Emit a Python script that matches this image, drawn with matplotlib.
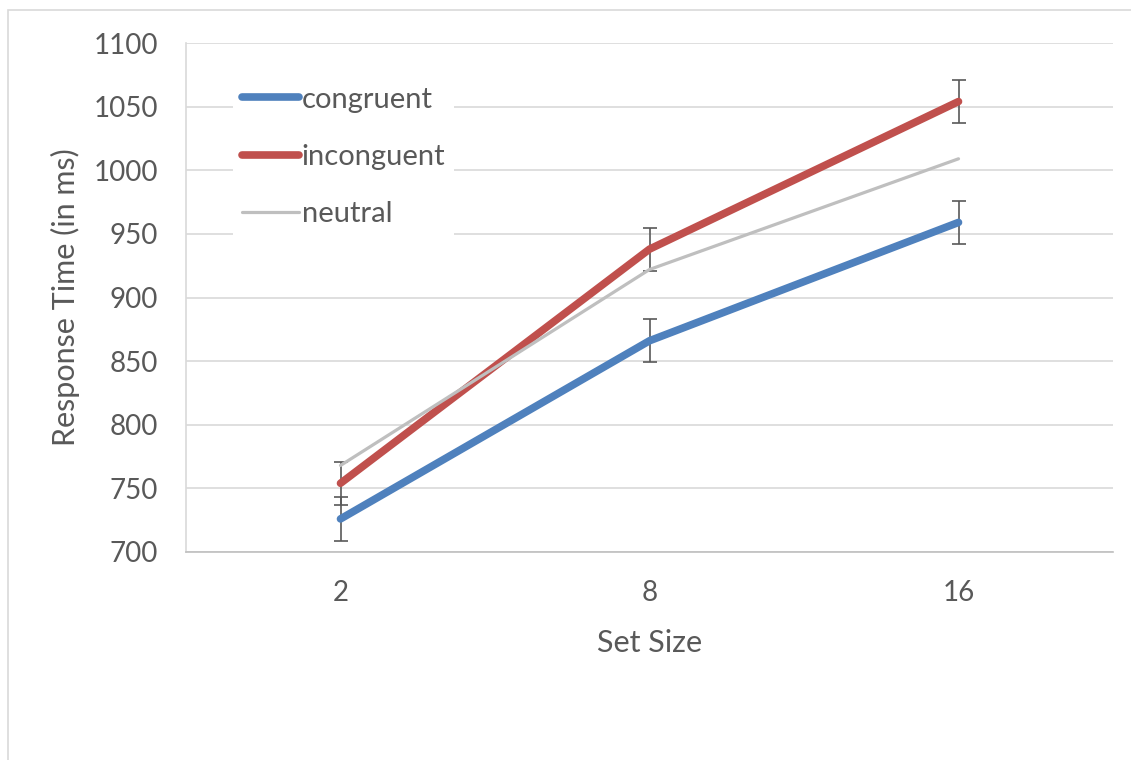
import matplotlib
matplotlib.use("Agg")
import matplotlib.pyplot as plt
from matplotlib.patches import Rectangle

plt.rcParams['font.family'] = ['Lato', 'DejaVu Sans']

# data
set_sizes = ['2', '8', '16']
congruent = [726, 866, 959]
inconguent = [754, 938, 1054]
neutral = [768, 922, 1009]
err = [17, 17, 17]

text_col = '#595959'
grid_col = '#d9d9d9'

fig = plt.figure(figsize=(11.31, 7.6), dpi=100)
ax = fig.add_axes([186 / 1131, 1 - 552 / 760, (1113 - 186) / 1131, (552 - 43) / 760])

# outer chart frame
fig.patches.append(Rectangle((8 / 1131, -0.05), 1.05, 1 - 10 / 760 + 0.05,
                             transform=fig.transFigure, fill=False,
                             edgecolor=grid_col, linewidth=1.2))

x = range(len(set_sizes))

# error bars (under the lines)
ax.errorbar(x, congruent, yerr=err, fmt='none', ecolor=text_col,
            elinewidth=1.2, capsize=5, capthick=1.2, zorder=2)
ax.errorbar(x, inconguent, yerr=err, fmt='none', ecolor=text_col,
            elinewidth=1.2, capsize=5, capthick=1.2, zorder=2)

ax.plot(x, congruent, color='#4F81BD', lw=5.5, solid_capstyle='round',
        label='congruent', zorder=3)
ax.plot(x, inconguent, color='#C0504D', lw=5.5, solid_capstyle='round',
        label='inconguent', zorder=3)
ax.plot(x, neutral, color='#BFBFBF', lw=2.3, solid_capstyle='round',
        label='neutral', zorder=4)

ax.set_xlim(-0.5, 2.5)
ax.set_ylim(700, 1100)
ax.set_yticks(range(700, 1101, 50))
ax.set_xticks(list(x))
ax.set_xticklabels(set_sizes)

ax.grid(axis='y', color=grid_col, lw=1.2)
ax.set_axisbelow(True)
for s in ['top', 'right']:
    ax.spines[s].set_visible(False)
ax.spines['left'].set_color(grid_col)
ax.spines['left'].set_linewidth(1.2)
ax.spines['bottom'].set_color('#bfbfbf')
ax.spines['bottom'].set_linewidth(1.2)

ax.tick_params(length=0, labelsize=20, labelcolor=text_col)
ax.tick_params(axis='y', pad=20)
ax.tick_params(axis='x', pad=20)

ax.set_xlabel('Set Size', fontsize=22, color=text_col, labelpad=17)
ax.set_ylabel('Response Time (in ms)', fontsize=22, color=text_col, labelpad=10)

leg = ax.legend(loc='upper left', bbox_to_anchor=(0.035, 0.96), fontsize=21,
                frameon=True, facecolor='white', edgecolor='none', framealpha=1,
                handlelength=1.95, handletextpad=0.1, labelspacing=1.07,
                borderpad=0.3, fancybox=False)
for t in leg.get_texts():
    t.set_color(text_col)

fig.savefig('out.png', dpi=100)
